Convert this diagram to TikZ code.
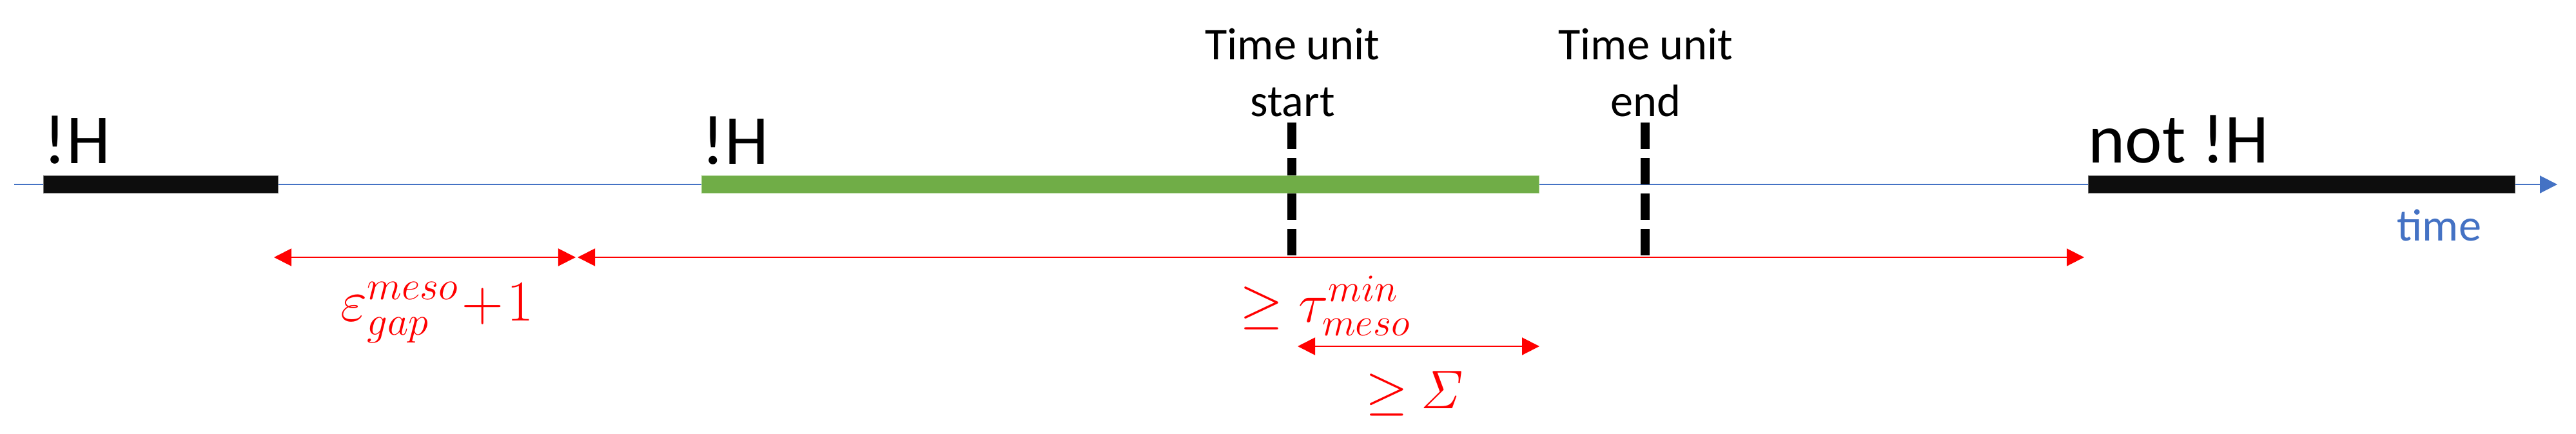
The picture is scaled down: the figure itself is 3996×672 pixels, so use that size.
\RequirePackage{fix-cm}
\documentclass[tikz,border=0pt]{standalone}
\usepackage[no-math]{fontspec}
\setmainfont{Carlito}
\usetikzlibrary{arrows.meta}
\definecolor{axisblue}{HTML}{4472C4}
\definecolor{bargreen}{HTML}{70AD47}
\definecolor{bargreenedge}{HTML}{A9D18E}
\definecolor{barblack}{HTML}{0D0D0D}
\definecolor{markred}{HTML}{FF0000}
\begin{document}
\begin{tikzpicture}[x=0.01cm,y=-0.01cm,
  axis/.style={draw=axisblue, line width=0.02cm, -{Triangle[length=0.27cm,width=0.27cm]}},
  hbar/.style={fill=barblack, draw=black!55, line width=0.004cm},
  gbar/.style={fill=bargreen, draw=bargreenedge, line width=0.004cm},
  tickline/.style={draw=black, line width=0.14cm, dash pattern=on 0.41cm off 0.14cm},
  span/.style={draw=markred, line width=0.02cm, {Triangle[length=0.27cm,width=0.27cm]}-{Triangle[length=0.27cm,width=0.27cm]}},
  biglabel/.style={inner sep=0pt, anchor=base west, font=\fontsize{31}{37}\selectfont},
  ticklabel/.style={inner sep=0pt, anchor=base, font=\fontsize{20}{25}\selectfont},
  mathlabel/.style={inner sep=0pt, anchor=base, text=markred},
]
\fill[white] (0,0) rectangle (3996,672);
\useasboundingbox (0,0) rectangle (3996,672);
% time axis
\coordinate (axL) at (22,286);
\coordinate (axR) at (3967,286);
\draw[axis] (axL) -- (axR);
% time unit markers
\coordinate (tsT) at (2004,190);
\coordinate (tsB) at (2004,396);
\coordinate (teT) at (2552,190);
\coordinate (teB) at (2552,396);
\draw[tickline] (tsT) -- (tsB);
\draw[tickline] (teT) -- (teB);
% bars
\draw[hbar] (67,272) rectangle (431,299);
\draw[gbar] (1088,272) rectangle (2387,299);
\draw[hbar] (3239,272) rectangle (3901,299);
% spans
\coordinate (g1L) at (425,399);
\coordinate (g1R) at (893,399);
\coordinate (g2L) at (896,399);
\coordinate (g2R) at (3233,399);
\coordinate (s1L) at (2013,537);
\coordinate (s1R) at (2388,537);
\draw[span] (g1L) -- (g1R);
\draw[span] (g2L) -- (g2R);
\draw[span] (s1L) -- (s1R);
% labels
\node[biglabel] (h1) at (67,253) {!H};
\node[biglabel] (h2) at (1088,254) {!H};
\node[biglabel] (h3) at (3239,252) {not !H};
\node[ticklabel] (ts1) at (2005,92) {Time unit};
\node[ticklabel] (ts2) at (2005,180) {start};
\node[ticklabel] (te1) at (2553,92) {Time unit};
\node[ticklabel] (te2) at (2553,180) {end};
\node[inner sep=0pt, anchor=base west, text=axisblue, font=\fontsize{20}{24}\selectfont] (tm) at (3718,373) {time};
\node[mathlabel, font=\fontsize{25.5}{30}\selectfont] (l1) at (678,497) {$\varepsilon^{meso}_{gap}\mkern1mu{+}\mkern1mu1$};
\node[mathlabel, font=\fontsize{24.5}{29}\selectfont] (l2) at (2056,499) {$\geq \tau^{min}_{meso}$};
\node[mathlabel, font=\fontsize{24}{29}\selectfont] (l3) at (2195,633) {${\geq}\mkern4mu\mathit{\Sigma}$};
\end{tikzpicture}
\end{document}
